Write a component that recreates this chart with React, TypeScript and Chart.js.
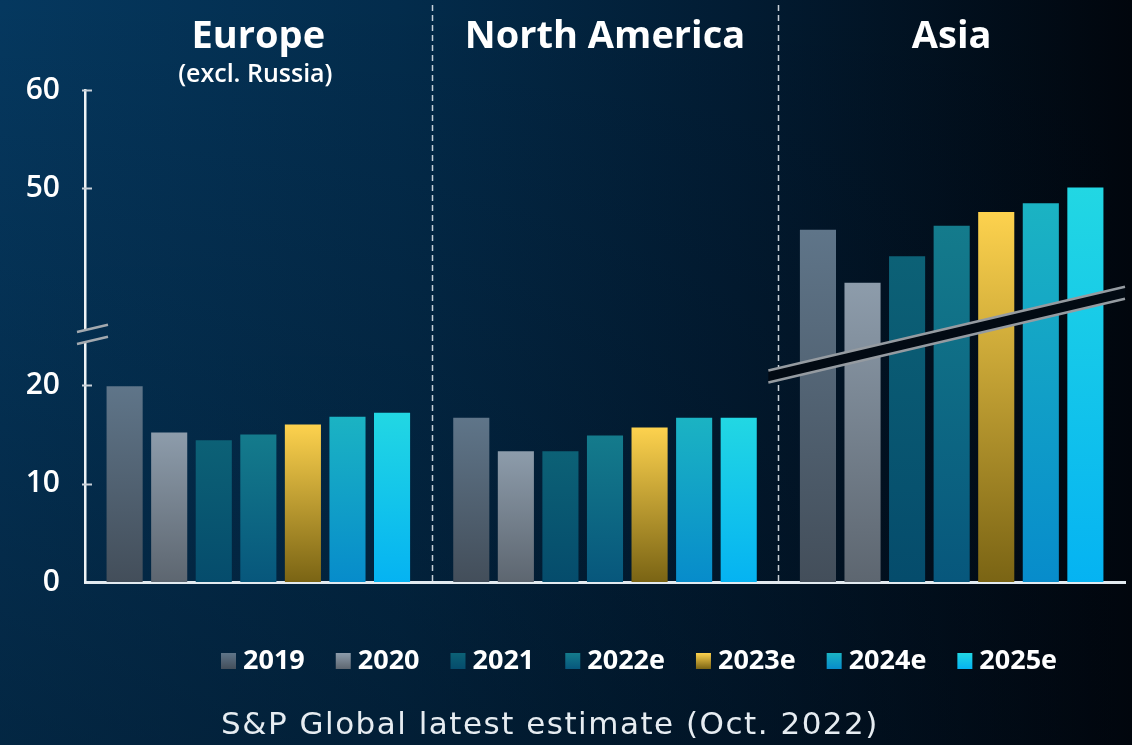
import React, { useEffect, useRef } from 'react';
import { Chart, registerables } from 'chart.js';

Chart.register(...registerables);

// ---------- data ----------
const regions = ['Europe', 'North America', 'Asia'];
const regionNotes = ['(excl. Russia)', '', ''];
const years = ['2019', '2020', '2021', '2022e', '2023e', '2024e', '2025e'];
const v2019 = [19.9, 16.7, 45.8];
const v2020 = [15.2, 13.3, 40.4];
const v2021 = [14.4, 13.3, 43.1];
const v2022e = [15.0, 14.9, 46.2];
const v2023e = [16.0, 15.7, 47.6];
const v2024e = [16.8, 16.7, 48.5];
const v2025e = [17.2, 16.7, 50.1];
const seriesValues = [v2019, v2020, v2021, v2022e, v2023e, v2024e, v2025e];
const yTickValues = [0, 10, 20, 50, 60];
const footnote = 'S&P Global latest estimate (Oct. 2022)';

// ---------- styles ----------
const topColors = ['#5f7589', '#8d9cab', '#0c6176', '#147b8c', '#fdd24e', '#1bb3c3', '#22d7e3'];
const bottomColors = ['#434e5a', '#5d6670', '#054c6c', '#07577c', '#7a6414', '#078ccb', '#05b3f2'];
const FONT = '"Open Sans", sans-serif';
const FOOT_FONT = '"DejaVu Sans", sans-serif';
const BG =
  'linear-gradient(180deg, rgba(0,0,0,0) 0%, rgba(0,6,14,0.35) 100%), linear-gradient(90deg, #05385f 0%, #032c4c 35%, #021c33 65%, #01060d 100%)';

// axis break: values above the break are shifted down by BREAK_GAP
const BREAK_AXIS = 25;
const BREAK_GAP = 10;
const toAxis = (v: number) => (v - BREAK_GAP > BREAK_AXIS ? v - BREAK_GAP : v);
const fromAxis = (a: number) => (a > BREAK_AXIS ? a + BREAK_GAP : a);

const barGradient = (i: number) => (ctx: any) => {
  const chart = ctx.chart;
  const area = chart.chartArea;
  if (!area || ctx.type !== 'data' || !ctx.parsed) return topColors[i];
  const y = chart.scales.y;
  const yTop = y.getPixelForValue(ctx.parsed.y);
  const yBot = y.getPixelForValue(0);
  if (!isFinite(yTop) || !isFinite(yBot) || yTop === yBot) return topColors[i];
  const g = chart.ctx.createLinearGradient(0, yTop, 0, yBot);
  g.addColorStop(0, topColors[i]);
  g.addColorStop(1, bottomColors[i]);
  return g;
};

const decor = {
  id: 'decor',
  beforeDatasetsDraw(chart: any) {
    const { ctx, chartArea, scales } = chart;
    const x = scales.x;
    ctx.save();
    ctx.setLineDash([6, 4]);
    ctx.strokeStyle = 'rgba(235,240,245,0.85)';
    ctx.lineWidth = 1.5;
    for (let i = 0; i < regions.length - 1; i++) {
      const xp = Math.round((x.getPixelForTick(i) + x.getPixelForTick(i + 1)) / 2) + 0.5;
      ctx.beginPath();
      ctx.moveTo(xp, 5);
      ctx.lineTo(xp, chartArea.bottom);
      ctx.stroke();
    }
    ctx.restore();
  },
  afterDatasetsDraw(chart: any) {
    const { ctx, chartArea, scales } = chart;
    const x = scales.x;
    const y = scales.y;
    const sep = (x.getPixelForTick(1) + x.getPixelForTick(2)) / 2;
    const x0 = sep - 10;
    const x1 = chartArea.right;
    const y0 = y.getPixelForValue(21.5);
    const y1 = y.getPixelForValue(30);
    const t = 12;
    ctx.save();
    ctx.fillStyle = '#020a13';
    ctx.beginPath();
    ctx.moveTo(x0, y0);
    ctx.lineTo(x1, y1);
    ctx.lineTo(x1, y1 + t);
    ctx.lineTo(x0, y0 + t);
    ctx.closePath();
    ctx.fill();
    ctx.strokeStyle = '#959ba1';
    ctx.lineWidth = 2.5;
    ctx.beginPath();
    ctx.moveTo(x0, y0);
    ctx.lineTo(x1, y1);
    ctx.moveTo(x0, y0 + t);
    ctx.lineTo(x1, y1 + t);
    ctx.stroke();
    ctx.restore();
  },
  afterDraw(chart: any) {
    const { ctx, chartArea, scales } = chart;
    const x = scales.x;
    const y = scales.y;
    const left = chartArea.left;
    // slope shared with the Asia band
    const sep = (x.getPixelForTick(1) + x.getPixelForTick(2)) / 2;
    const slope = (y.getPixelForValue(30) - y.getPixelForValue(21.5)) / (chartArea.right - (sep - 10));

    // y-axis tick marks
    ctx.save();
    ctx.strokeStyle = '#c9d1d9';
    ctx.lineWidth = 2;
    y.ticks.forEach((tk: any) => {
      const yp = Math.round(y.getPixelForValue(tk.value)) + 0.5;
      if (tk.value === 0) return;
      ctx.beginPath();
      ctx.moveTo(left - 3, yp);
      ctx.lineTo(left + 7, yp);
      ctx.stroke();
    });
    ctx.restore();

    // y-axis break marks
    const yc = y.getPixelForValue(25.6);
    const t = 12;
    const xa = left - 8;
    const xb = left + 23;
    const yAt = (xx: number, off: number) => yc + off + slope * (xx - left);
    ctx.save();
    ctx.globalCompositeOperation = 'destination-out';
    ctx.beginPath();
    ctx.moveTo(xa, yAt(xa, 0));
    ctx.lineTo(xb, yAt(xb, 0));
    ctx.lineTo(xb, yAt(xb, t));
    ctx.lineTo(xa, yAt(xa, t));
    ctx.closePath();
    ctx.fill();
    ctx.restore();
    ctx.save();
    ctx.strokeStyle = '#a3a9af';
    ctx.lineWidth = 2.5;
    ctx.beginPath();
    ctx.moveTo(xa, yAt(xa, 0));
    ctx.lineTo(xb, yAt(xb, 0));
    ctx.moveTo(xa, yAt(xa, t));
    ctx.lineTo(xb, yAt(xb, t));
    ctx.stroke();
    ctx.restore();

    // region titles
    ctx.save();
    ctx.fillStyle = '#ffffff';
    ctx.textAlign = 'center';
    ctx.textBaseline = 'alphabetic';
    regions.forEach((r, i) => {
      const cx = x.getPixelForTick(i);
      ctx.font = `700 38px ${FONT}`;
      ctx.fillText(r, cx, 48);
      if (regionNotes[i]) {
        ctx.font = `600 25px ${FONT}`;
        ctx.fillText(regionNotes[i], cx - 3, 82);
      }
    });
    ctx.restore();

    // legend
    ctx.save();
    ctx.textAlign = 'left';
    ctx.textBaseline = 'alphabetic';
    ctx.font = `700 27px ${FONT}`;
    let lx = 221;
    const by0 = 653;
    const bh = 16;
    years.forEach((yr, i) => {
      const g = ctx.createLinearGradient(0, by0, 0, by0 + bh);
      g.addColorStop(0, topColors[i]);
      g.addColorStop(1, bottomColors[i]);
      ctx.fillStyle = g;
      ctx.fillRect(lx, by0, 15, bh);
      ctx.fillStyle = '#ffffff';
      ctx.fillText(yr, lx + 22, 669);
      lx += 22 + ctx.measureText(yr).width + 31;
    });
    ctx.restore();

    // footnote
    ctx.save();
    ctx.fillStyle = '#e6ecf1';
    ctx.textAlign = 'left';
    ctx.textBaseline = 'alphabetic';
    ctx.font = `400 31px ${FOOT_FONT}`;
    (ctx as any).letterSpacing = '1.5px';
    const fw = ctx.measureText(footnote).width;
    ctx.fillText(footnote, 550 - fw / 2, 734);
    ctx.restore();
  },
};

export default function App() {
  const ref = useRef<HTMLCanvasElement>(null);
  useEffect(() => {
    const canvas = ref.current;
    if (!canvas) return;
    const chart = new Chart(canvas, {
      type: 'bar',
      data: {
        labels: regions,
        datasets: years.map((yr, i) => ({
          label: yr,
          data: seriesValues[i].map(toAxis),
          backgroundColor: barGradient(i),
          borderWidth: 0,
          categoryPercentage: 0.9,
          barPercentage: 0.81,
        })),
      },
      options: {
        responsive: false,
        animation: false,
        layout: { padding: { top: 90, right: 7, bottom: 163, left: 0 } },
        plugins: {
          legend: { display: false },
          tooltip: { enabled: false },
          title: { display: false },
        },
        scales: {
          x: {
            type: 'category',
            ticks: { display: false },
            grid: { display: false, drawTicks: false },
            border: { display: true, color: '#e2eaf0', width: 3 },
            afterFit: (s: any) => {
              s.height = 0;
            },
          },
          y: {
            type: 'linear',
            min: 0,
            max: 50,
            grid: { display: false, drawTicks: false },
            border: { display: true, color: '#eef3f6', width: 2.5 },
            afterBuildTicks: (s: any) => {
              s.ticks = yTickValues.map((v) => ({ value: toAxis(v) }));
            },
            ticks: {
              padding: 25,
              color: '#ffffff',
              font: { family: FONT, size: 30, weight: '600' as any },
              callback: (v: any) => String(fromAxis(Number(v))),
            },
            afterFit: (s: any) => {
              s.width = 85;
            },
          },
        },
      },
      plugins: [decor],
    });
    return () => chart.destroy();
  }, []);
  return (
    <div style={{ position: 'fixed', left: 0, top: 0, width: 1132, height: 745, background: BG }}>
      <canvas ref={ref} width={1132} height={745} style={{ display: 'block' }} />
    </div>
  );
}
